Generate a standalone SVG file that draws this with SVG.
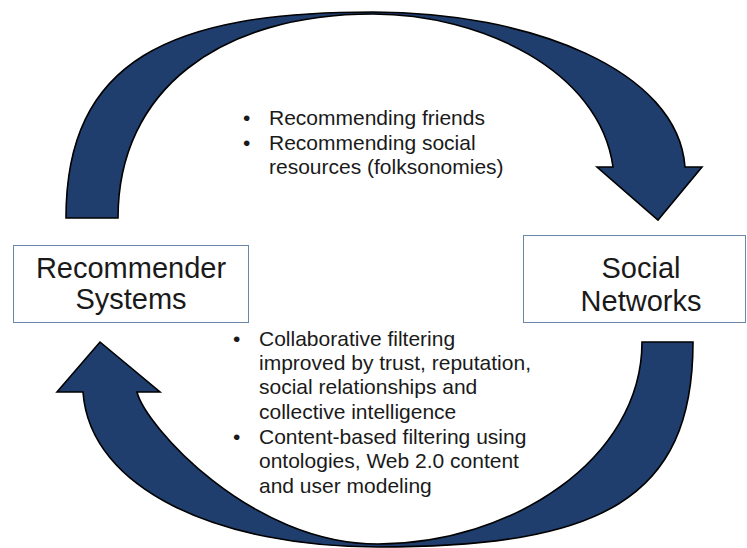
<svg xmlns="http://www.w3.org/2000/svg" width="747" height="548" viewBox="0 0 747 548">
  <style>
    .arrow { fill: #1f3e6d; stroke: #000000; stroke-width: 1.6; stroke-linejoin: miter; }
    .box { fill: #ffffff; stroke: #6a87a8; stroke-width: 1; }
    .label { font-family: "Liberation Sans", Arial, sans-serif; font-size: 29px; fill: #1a1a1a; text-anchor: middle; }
    .bullet { font-family: "Liberation Sans", Arial, sans-serif; font-size: 21px; fill: #1a1a1a; }
  </style>
  <rect width="747" height="548" fill="#ffffff"/>

  <g id="connectors">
    <path id="arrow-top" class="arrow" d="M66,218 C66,60 170,12 373,12 C530,12 678,70 685,167 L702,167 L658,220 L597,167 L613,167 C600,70 480,14 373,14 C220,14 118,90 118,218 Z"/>
    <path id="arrow-bottom" class="arrow" d="M693,342 C693,500 600,547 378,547 C220,547 90,490 83,392 L57,392 L100,342 L160,392 L137,392 C145,425 250,544 378,544 C510,544 642,460 642,342 Z"/>
  </g>

  <g id="node-recommender">
    <rect class="box" x="13.5" y="245.5" width="235" height="77"/>
    <text class="label" x="131" y="278">Recommender</text>
    <text class="label" x="131" y="309">Systems</text>
  </g>

  <g id="node-social">
    <rect class="box" x="523.5" y="235.5" width="222" height="87"/>
    <text class="label" x="641" y="278">Social</text>
    <text class="label" x="641" y="311">Networks</text>
  </g>

  <g id="label-top">
    <text class="bullet" x="243" y="125">•</text>
    <text class="bullet" x="269" y="125">Recommending friends</text>
    <text class="bullet" x="243" y="150">•</text>
    <text class="bullet" x="269" y="150">Recommending social</text>
    <text class="bullet" x="269" y="174">resources (folksonomies)</text>
  </g>

  <g id="label-bottom">
    <text class="bullet" x="233" y="346">•</text>
    <text class="bullet" x="259" y="346">Collaborative filtering</text>
    <text class="bullet" x="259" y="370">improved by trust, reputation,</text>
    <text class="bullet" x="259" y="394">social relationships and</text>
    <text class="bullet" x="259" y="419">collective intelligence</text>
    <text class="bullet" x="233" y="444">•</text>
    <text class="bullet" x="259" y="444">Content-based filtering using</text>
    <text class="bullet" x="259" y="468">ontologies, Web 2.0 content</text>
    <text class="bullet" x="259" y="493">and user modeling</text>
  </g>
</svg>
